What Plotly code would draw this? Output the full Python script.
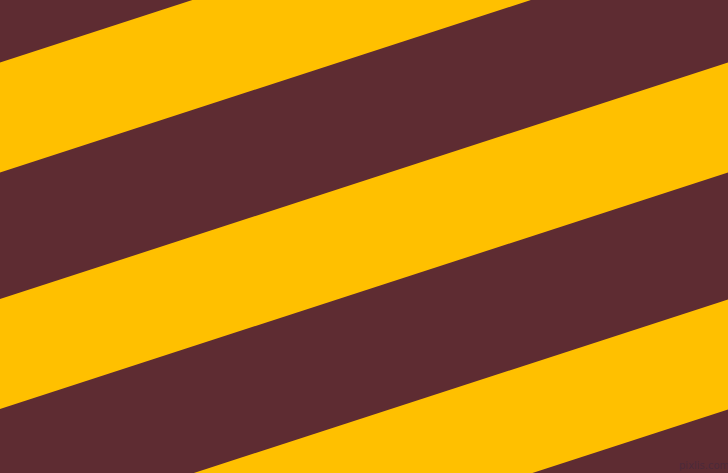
import math
import plotly.graph_objects as go

W, H = 728, 473

band_tops = [62.5, 299, 536]    # where each amber band's upper edge meets x=0
band_width = 110                # vertical thickness of an amber band
angle_deg = 18                  # the stripes rise to the right at this angle

maroon = "#5E2C32"
amber = "#FFC000"

slope = math.tan(math.radians(angle_deg))
rise = slope * W

fig = go.Figure()
for top in band_tops:
    bottom = top + band_width
    fig.add_trace(go.Scatter(
        x=[0, W, W, 0, 0],
        y=[top, top - rise, bottom - rise, bottom, top],
        mode="lines",
        fill="toself",
        fillcolor=amber,
        line=dict(width=0, color=amber),
        hoverinfo="skip",
        showlegend=False,
    ))

fig.add_annotation(
    x=704, y=465, xref="x", yref="y",
    text="pixlis.com", showarrow=False,
    font=dict(family="DejaVu Sans", size=10, color="#4C2A3A"),
)

fig.update_xaxes(range=[0, W], visible=False, fixedrange=True)
fig.update_yaxes(range=[H, 0], visible=False, fixedrange=True)
fig.update_layout(
    width=W, height=H,
    margin=dict(l=0, r=0, t=0, b=0),
    plot_bgcolor=maroon,
    paper_bgcolor=maroon,
)

# drop the browser's default page margin so the figure fills the window
fig.write_html(
    "out.html",
    config={"displayModeBar": False},
    post_script="document.body.style.margin='0';document.body.style.overflow='hidden';",
)
